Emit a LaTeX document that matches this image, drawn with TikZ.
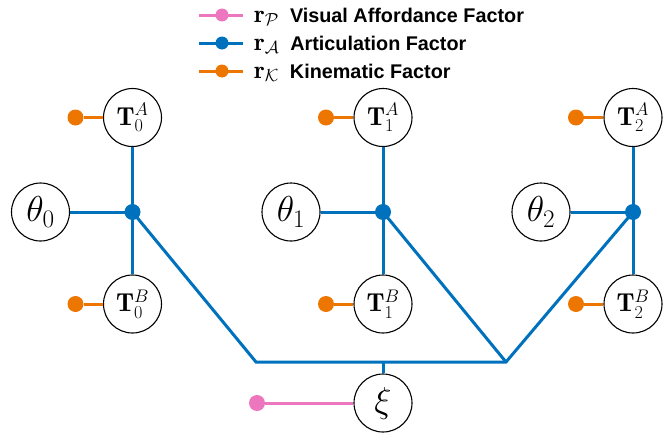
\RequirePackage{fix-cm}
\documentclass[tikz,border=0pt]{standalone}
\usepackage{fontspec}
\newfontfamily\legendfont{Liberation Sans}
\definecolor{fblue}{RGB}{0,114,189}
\definecolor{forange}{RGB}{237,118,0}
\definecolor{fpink}{RGB}{237,119,190}
\newcommand{\legmath}[1]{{\fontsize{25}{28}\selectfont$\mathbf{r}_{#1}$}\hspace{11pt}}
\begin{document}
\begin{tikzpicture}[x=1pt,y=-1pt,
  var/.style={circle,draw=black,line width=1.1pt,minimum size=58pt,inner sep=0pt,fill=white},
  tvar/.style={var,font=\fontsize{26}{30}\selectfont},
  bvar/.style={var,font=\fontsize{36}{42}\selectfont},
  dotnode/.style={circle,inner sep=0pt,minimum size=16pt},
  ldot/.style={circle,inner sep=0pt,minimum size=13pt},
  bline/.style={draw=fblue,line width=3pt},
  oline/.style={draw=forange,line width=3pt},
  pline/.style={draw=fpink,line width=3pt},
  legtext/.style={anchor=base west,inner sep=0pt,font=\fontsize{19.8}{22}\legendfont\bfseries}
]
\useasboundingbox (0,0) rectangle (670,434);

% legend
\foreach \c/\y/\nm in {fpink/15/lp,fblue/43/la,forange/71/lk}{
  \coordinate (\nm l) at (199,\y);
  \coordinate (\nm r) at (243,\y);
  \draw[draw=\c,line width=3pt] (\nm l) -- (\nm r);
  \node[ldot,fill=\c] (\nm d) at (222,\y) {};
}
\node[legtext] (tp) at (254,22) {\legmath{\mathcal{P}}Visual Affordance Factor};
\node[legtext] (ta) at (254,50) {\legmath{\mathcal{A}}Articulation Factor};
\node[legtext] (tk) at (254,78) {\legmath{\mathcal{K}}Kinematic Factor};

% columns
\foreach \i/\x in {0/132.5,1/383,2/633}{
  \node[tvar] (TA\i) at (\x,117.5) {$\mathbf{T}_{\i}^{A}$};
  \node[tvar] (TB\i) at (\x,304) {$\mathbf{T}_{\i}^{B}$};
  \node[bvar] (th\i) at (\x-92,212) {$\theta_{\i}$};
  \node[dotnode] (f\i) at (\x,212) {};
  \node[dotnode,fill=forange] (oA\i) at (\x-57,117.5) {};
  \node[dotnode,fill=forange] (oB\i) at (\x-57,304) {};
  \draw[oline] (oA\i) -- (TA\i);
  \draw[oline] (oB\i) -- (TB\i);
  \draw[bline] (th\i) -- (f\i.center);
  \draw[bline] (TA\i) -- (f\i.center);
  \draw[bline] (TB\i) -- (f\i.center);
}

% bus
\node[bvar] (xi) at (383,403) {$\xi$};
\coordinate (bl) at (256,362);
\coordinate (br) at (506,362);
\coordinate (bm) at (383,362);
\draw[bline,line join=miter] (f0.center) -- (bl) -- (br) -- (f2.center);
\draw[bline] (f1.center) -- (br);
\draw[bline] (bm) -- (xi);
\node[dotnode,fill=fpink] (pd) at (257,403) {};
\draw[pline] (pd) -- (xi);

% factor dots on top
\foreach \i in {0,1,2}{
  \fill[fblue] (f\i) circle (8pt);
}
\end{tikzpicture}
\end{document}
